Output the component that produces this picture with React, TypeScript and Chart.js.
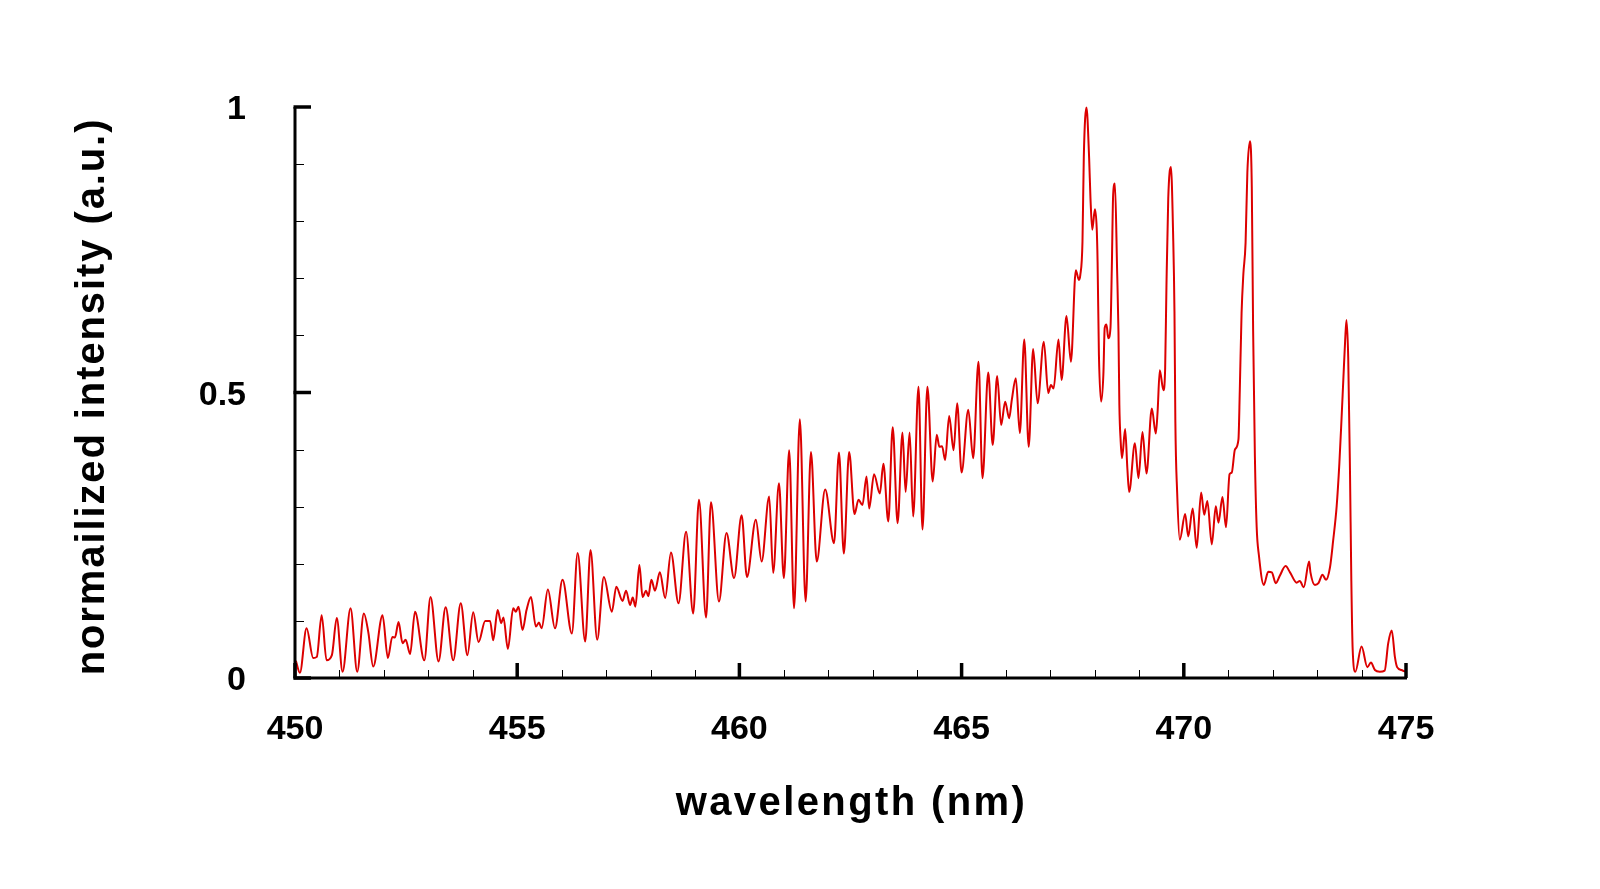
import React, { useEffect, useRef } from 'react';
import { Chart, registerables } from 'chart.js';
import type { ChartOptions, Plugin } from 'chart.js';

Chart.register(...registerables);

// spectrum (nm, normalized)
const wavelength = [
  450.02, 450.11, 450.26, 450.41, 450.49, 450.60, 450.71, 450.83, 450.94, 451.07,
  451.25, 451.40, 451.55, 451.65, 451.76, 451.97, 452.09, 452.19, 452.25, 452.33,
  452.42, 452.49, 452.59, 452.70, 452.91, 453.05, 453.23, 453.39, 453.56, 453.73,
  453.88, 454.01, 454.13, 454.28, 454.39, 454.46, 454.56, 454.64, 454.69, 454.79,
  454.91, 454.97, 455.03, 455.12, 455.21, 455.31, 455.42, 455.49, 455.55, 455.69,
  455.85, 456.02, 456.23, 456.36, 456.53, 456.65, 456.80, 456.95, 457.13, 457.23,
  457.37, 457.45, 457.54, 457.60, 457.66, 457.75, 457.82, 457.90, 457.95, 458.02,
  458.10, 458.21, 458.33, 458.46, 458.63, 458.80, 458.96, 459.09, 459.25, 459.36,
  459.54, 459.71, 459.88, 460.05, 460.17, 460.37, 460.50, 460.67, 460.76, 460.89,
  461.00, 461.12, 461.23, 461.36, 461.49, 461.61, 461.74, 461.93, 462.13, 462.24,
  462.35, 462.47, 462.59, 462.68, 462.77, 462.86, 462.92, 463.03, 463.16, 463.24,
  463.35, 463.45, 463.56, 463.67, 463.74, 463.83, 463.91, 464.03, 464.12, 464.23,
  464.35, 464.44, 464.50, 464.56, 464.63, 464.72, 464.82, 464.90, 465.00, 465.15,
  465.26, 465.38, 465.47, 465.60, 465.70, 465.80, 465.89, 465.98, 466.07, 466.13,
  466.22, 466.31, 466.41, 466.51, 466.61, 466.71, 466.85, 466.95, 467.01, 467.07,
  467.18, 467.25, 467.36, 467.46, 467.57, 467.64, 467.67, 467.72, 467.75, 467.81,
  467.87, 467.90, 467.94, 468.00, 468.04, 468.06, 468.09, 468.14, 468.19, 468.22,
  468.26, 468.30, 468.35, 468.38, 468.41, 468.45, 468.50, 468.53, 468.55, 468.58,
  468.61, 468.68, 468.73, 468.77, 468.90, 468.98, 469.07, 469.16, 469.28, 469.37,
  469.41, 469.46, 469.54, 469.58, 469.61, 469.65, 469.71, 469.76, 469.79, 469.81,
  469.85, 469.91, 470.03, 470.10, 470.20, 470.29, 470.39, 470.46, 470.53, 470.63,
  470.72, 470.78, 470.87, 470.95, 471.03, 471.08, 471.15, 471.23, 471.26, 471.30,
  471.34, 471.39, 471.43, 471.49, 471.53, 471.56, 471.60, 471.64, 471.69, 471.80,
  471.90, 471.98, 472.07, 472.16, 472.29, 472.39, 472.54, 472.61, 472.70, 472.82,
  472.85, 472.95, 473.03, 473.12, 473.20, 473.29, 473.36, 473.44, 473.50, 473.55,
  473.59, 473.63, 473.66, 473.70, 473.74, 473.77, 473.80, 473.86, 474.00, 474.13,
  474.21, 474.30, 474.41, 474.52, 474.60, 474.68, 474.75, 474.80, 474.90, 474.98,
];

const intensity = [
  0.030, 0.009, 0.087, 0.035, 0.037, 0.110, 0.031, 0.040, 0.105, 0.011,
  0.122, 0.011, 0.113, 0.080, 0.020, 0.110, 0.035, 0.072, 0.071, 0.098,
  0.061, 0.067, 0.042, 0.116, 0.031, 0.142, 0.029, 0.124, 0.031, 0.131,
  0.040, 0.115, 0.063, 0.100, 0.100, 0.066, 0.119, 0.096, 0.106, 0.051,
  0.122, 0.116, 0.125, 0.084, 0.119, 0.142, 0.090, 0.097, 0.087, 0.155,
  0.087, 0.172, 0.078, 0.219, 0.064, 0.224, 0.067, 0.177, 0.116, 0.160,
  0.135, 0.153, 0.128, 0.141, 0.125, 0.198, 0.142, 0.153, 0.143, 0.172,
  0.153, 0.185, 0.140, 0.220, 0.131, 0.256, 0.113, 0.312, 0.106, 0.308,
  0.134, 0.254, 0.175, 0.285, 0.177, 0.277, 0.204, 0.318, 0.184, 0.341,
  0.175, 0.399, 0.122, 0.453, 0.134, 0.396, 0.204, 0.330, 0.236, 0.395,
  0.218, 0.396, 0.287, 0.312, 0.303, 0.353, 0.297, 0.357, 0.323, 0.375,
  0.274, 0.439, 0.271, 0.430, 0.326, 0.430, 0.283, 0.510, 0.260, 0.510,
  0.344, 0.426, 0.405, 0.406, 0.382, 0.459, 0.399, 0.481, 0.360, 0.470,
  0.385, 0.554, 0.350, 0.535, 0.408, 0.529, 0.443, 0.484, 0.455, 0.487,
  0.525, 0.429, 0.593, 0.405, 0.576, 0.481, 0.589, 0.499, 0.513, 0.507,
  0.593, 0.522, 0.634, 0.554, 0.714, 0.697, 0.705, 0.764, 0.913, 0.999,
  0.910, 0.840, 0.785, 0.821, 0.788, 0.729, 0.566, 0.484, 0.531, 0.613,
  0.619, 0.595, 0.613, 0.717, 0.846, 0.866, 0.712, 0.606, 0.478, 0.414,
  0.385, 0.436, 0.367, 0.326, 0.411, 0.350, 0.431, 0.358, 0.472, 0.428,
  0.466, 0.539, 0.504, 0.541, 0.688, 0.840, 0.895, 0.776, 0.642, 0.449,
  0.326, 0.242, 0.287, 0.248, 0.297, 0.228, 0.325, 0.286, 0.310, 0.234,
  0.301, 0.272, 0.317, 0.264, 0.357, 0.360, 0.400, 0.418, 0.504, 0.639,
  0.707, 0.762, 0.885, 0.940, 0.860, 0.609, 0.387, 0.264, 0.215, 0.163,
  0.186, 0.185, 0.166, 0.179, 0.196, 0.185, 0.167, 0.170, 0.159, 0.204,
  0.185, 0.163, 0.166, 0.181, 0.172, 0.194, 0.240, 0.301, 0.375, 0.455,
  0.523, 0.590, 0.627, 0.560, 0.360, 0.170, 0.050, 0.011, 0.055, 0.019,
  0.027, 0.014, 0.011, 0.013, 0.061, 0.083, 0.037, 0.019, 0.014, 0.011,
];

const xMajorTicks = [450, 455, 460, 465, 470, 475];
const xTickLabels = ['450', '455', '460', '465', '470', '475'];
const xMinorTicks = [
  451, 452, 453, 454, 456, 457, 458, 459, 461, 462, 463, 464,
  466, 467, 468, 469, 471, 472, 473, 474,
];
const yMajorTicks = [0, 0.5, 1];
const yTickLabels = ['0', '0.5', '1'];
const yMinorTicks = [0.1, 0.2, 0.3, 0.4, 0.6, 0.7, 0.8, 0.9];

const xTitle = 'wavelength (nm)';
const yTitle = 'normailized intensity (a.u.)';

const FONT = "'Liberation Sans', Arial, Helvetica, sans-serif";

// inward ticks, axis lines, labels and titles
const axesPlugin: Plugin<'line'> = {
  id: 'axesPlugin',
  afterDraw: (chart) => {
    const ctx = chart.ctx;
    const xs = chart.scales.x;
    const ys = chart.scales.y;
    const { left, right, top, bottom } = chart.chartArea;

    const seg = (x1: number, y1: number, x2: number, y2: number, w: number) => {
      ctx.lineWidth = w;
      ctx.beginPath();
      ctx.moveTo(x1, y1);
      ctx.lineTo(x2, y2);
      ctx.stroke();
    };

    ctx.save();
    ctx.strokeStyle = '#000';
    ctx.lineCap = 'butt';

    // axis lines
    ctx.lineWidth = 3;
    ctx.lineJoin = 'miter';
    ctx.beginPath();
    ctx.moveTo(left, top);
    ctx.lineTo(left, bottom);
    ctx.lineTo(right + 1, bottom);
    ctx.stroke();

    xMinorTicks.forEach((v) => {
      const px = Math.round(xs.getPixelForValue(v)) + 0.5;
      seg(px, bottom, px, bottom - 8, 1);
    });
    xMajorTicks.forEach((v) => {
      const px = xs.getPixelForValue(v);
      seg(px, bottom, px, bottom - 15, 3.5);
    });
    yMinorTicks.forEach((v) => {
      const py = Math.round(ys.getPixelForValue(v)) + 0.5;
      seg(left, py, left + 9, py, 1);
    });
    yMajorTicks.forEach((v) => {
      const py = ys.getPixelForValue(v);
      seg(left - 1.5, py, left + 16, py, 3.5);
    });

    ctx.fillStyle = '#000';
    ctx.font = `bold 34px ${FONT}`;
    ctx.textAlign = 'center';
    ctx.textBaseline = 'alphabetic';
    xMajorTicks.forEach((v, i) => {
      ctx.fillText(xTickLabels[i], xs.getPixelForValue(v), bottom + 61);
    });
    ctx.textAlign = 'right';
    yMajorTicks.forEach((v, i) => {
      ctx.fillText(yTickLabels[i], left - 49, ys.getPixelForValue(v) + 12);
    });

    ctx.font = `bold 40px ${FONT}`;
    (ctx as any).letterSpacing = '2.4px';
    ctx.textAlign = 'center';
    ctx.fillText(xTitle, (left + right) / 2 + 1, bottom + 137);

    (ctx as any).letterSpacing = '1.9px';
    ctx.translate(104, (top + bottom) / 2 + 4);
    ctx.rotate(-Math.PI / 2);
    ctx.fillText(yTitle, 0, 0);
    ctx.restore();
  },
};

const App: React.FC = () => {
  const canvasRef = useRef<HTMLCanvasElement>(null);

  useEffect(() => {
    if (!canvasRef.current) return;

    const points = wavelength.map((w, i) => ({ x: w, y: intensity[i] }));

    const options: ChartOptions<'line'> = {
      responsive: true,
      maintainAspectRatio: false,
      animation: false,
      layout: {
        padding: { left: 0, right: 194, top: 107, bottom: 0 },
      },
      plugins: {
        legend: { display: false },
        tooltip: { enabled: false },
      },
      scales: {
        x: {
          type: 'linear',
          min: 450,
          max: 475,
          grid: { display: false },
          border: { display: false },
          ticks: { display: false },
          afterFit: (scale) => {
            scale.height = 211;
          },
        },
        y: {
          type: 'linear',
          min: 0,
          max: 1,
          grid: { display: false },
          border: { display: false },
          ticks: { display: false },
          afterFit: (scale) => {
            scale.width = 295;
          },
        },
      },
    };

    const chart = new Chart(canvasRef.current, {
      type: 'line',
      data: {
        datasets: [
          {
            data: points,
            borderColor: '#dc0000',
            borderWidth: 2,
            pointRadius: 0,
            fill: false,
            cubicInterpolationMode: 'monotone',
            clip: 6,
          },
        ],
      },
      options,
      plugins: [axesPlugin],
    });

    return () => {
      chart.destroy();
    };
  }, []);

  return (
    <div
      style={{
        position: 'fixed',
        left: 0,
        top: 0,
        width: '1600px',
        height: '889px',
        background: '#fff',
      }}
    >
      <canvas ref={canvasRef}></canvas>
    </div>
  );
};

export default App;
